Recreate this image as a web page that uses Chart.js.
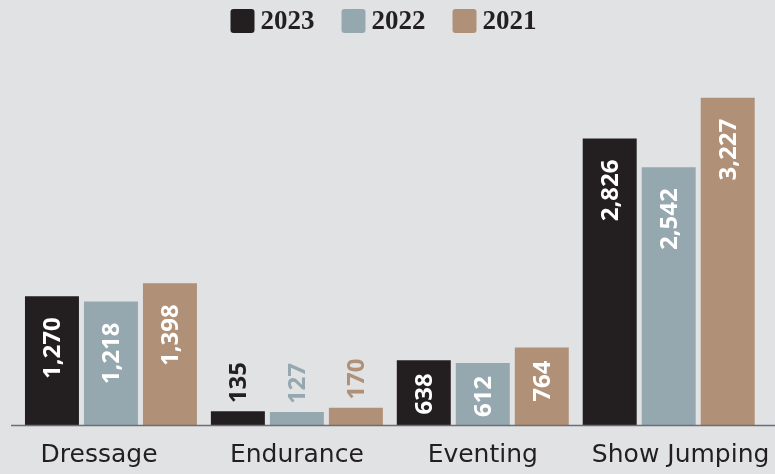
<!DOCTYPE html>
<html>
<head>
<meta charset="utf-8">
<script src="https://cdn.jsdelivr.net/npm/chart.js@4"></script>
<style>
  body { margin: 0; background: #e1e2e4; }
  canvas { display: block; }
</style>
</head>
<body>
<canvas id="chart" width="775" height="474"></canvas>
<script>
// Datos
const categories = ["Dressage", "Endurance", "Eventing", "Show Jumping"];
const years = ["2023", "2022", "2021"];
const values2023 = [1270, 135, 638, 2826];
const values2022 = [1218, 127, 612, 2542];
const values2021 = [1398, 170, 764, 3227];

const colors = ["#231f20", "#95a8b0", "#b09177"];

// Leyenda arriba, dibujada a mano
const topLegend = {
  id: "topLegend",
  afterDraw(chart) {
    const ctx = chart.ctx;
    const box = 24, gapText = 6, gapItem = 27;
    ctx.save();
    ctx.font = "bold 27px 'Liberation Serif'";
    ctx.textBaseline = "middle";
    const widths = chart.data.datasets.map(ds => ctx.measureText(ds.label).width);
    const total = widths.reduce((a, w) => a + box + gapText + w, 0) + gapItem * (widths.length - 1);
    let x = (chart.width - total) / 2 - 4;
    const y = 9;
    chart.data.datasets.forEach((ds, i) => {
      ctx.fillStyle = ds.backgroundColor;
      ctx.beginPath();
      ctx.roundRect(x, y, box, box, 3);
      ctx.fill();
      ctx.fillStyle = "#231f20";
      ctx.textAlign = "left";
      ctx.fillText(ds.label, x + box + gapText, y + box / 2 + 1);
      x += box + gapText + widths[i] + gapItem;
    });
    ctx.restore();
  }
};

// Etiquetas de valor giradas
const valueLabels = {
  id: "valueLabels",
  afterDatasetsDraw(chart) {
    const ctx = chart.ctx;
    ctx.save();
    ctx.font = "bold 24px 'Open Sans'";
    chart.data.datasets.forEach((ds, i) => {
      chart.getDatasetMeta(i).data.forEach((bar, j) => {
        const txt = ds.data[j].toLocaleString("en-US");
        const w = ctx.measureText(txt).width;
        const h = bar.base - bar.y;
        ctx.save();
        ctx.textBaseline = "middle";
        if (h > w + 20) {
          ctx.translate(bar.x, bar.y + (h > 100 ? 21 : 13));
          ctx.rotate(-Math.PI / 2);
          ctx.textAlign = "right";
          ctx.fillStyle = "#ffffff";
        } else {
          ctx.translate(bar.x, bar.y - 8);
          ctx.rotate(-Math.PI / 2);
          ctx.textAlign = "left";
          ctx.fillStyle = ds.backgroundColor;
        }
        ctx.fillText(txt, 0, 1);
        ctx.restore();
      });
    });
    ctx.restore();
  }
};

// Línea base
const baseLine = {
  id: "baseLine",
  afterDatasetsDraw(chart) {
    const ctx = chart.ctx;
    const y = chart.scales.y.getPixelForValue(0) + 0.5;
    ctx.save();
    ctx.strokeStyle = "#6d6e70";
    ctx.lineWidth = 1.5;
    ctx.beginPath();
    ctx.moveTo(11, y);
    ctx.lineTo(chart.width, y);
    ctx.stroke();
    ctx.restore();
  }
};

new Chart(document.getElementById("chart"), {
  type: "bar",
  data: {
    labels: categories,
    datasets: [
      { label: years[0], data: values2023, backgroundColor: colors[0] },
      { label: years[1], data: values2022, backgroundColor: colors[1] },
      { label: years[2], data: values2021, backgroundColor: colors[2] }
    ]
  },
  options: {
    responsive: false,
    animation: false,
    categoryPercentage: 0.952,
    barPercentage: 0.915,
    layout: { padding: { left: 18, right: 13, top: 60, bottom: 0 } },
    plugins: {
      legend: { display: false },
      tooltip: { enabled: false }
    },
    scales: {
      x: {
        grid: { display: false, tickLength: 11 },
        border: { display: false },
        ticks: {
          color: "#231f20",
          padding: 4,
          maxRotation: 0,
          minRotation: 0,
          autoSkip: false,
          font: { family: "'DejaVu Sans'", size: 25 },
          // el primero va algo a la izquierda y el último a la derecha
          callback: function(v, i) {
            const t = this.getLabelForValue(v);
            if (i === 0) return t + "   ";
            if (i === categories.length - 1) return "   " + t;
            return t;
          }
        }
      },
      y: {
        display: false,
        min: 0,
        max: 3600
      }
    }
  },
  plugins: [valueLabels, baseLine, topLegend]
});
</script>
</body>
</html>
